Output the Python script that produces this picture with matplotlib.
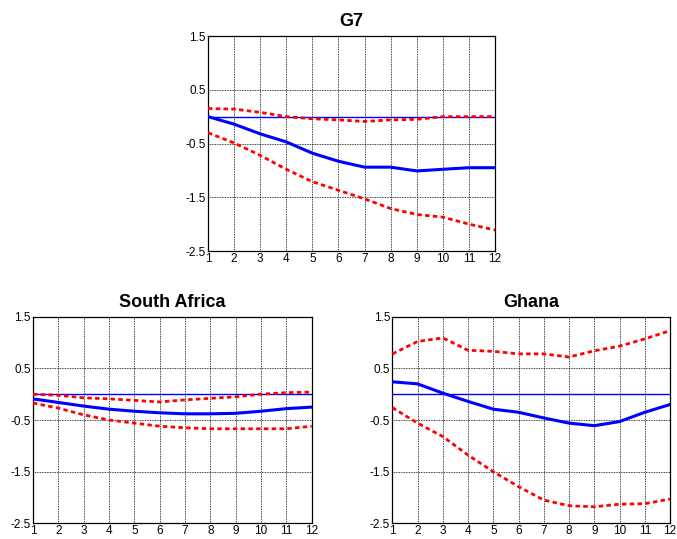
import matplotlib
matplotlib.use("Agg")
import matplotlib.pyplot as plt
import numpy as np

plt.rcParams['font.family'] = ['Liberation Sans', 'DejaVu Sans']

horizons = list(range(1, 13))
yticks = [1.5, 0.5, -0.5, -1.5, -2.5]
ytick_labels = ['1.5', '0.5', '-0.5', '-1.5', '-2.5']

g7_mid = [0.0, -0.14, -0.32, -0.47, -0.68, -0.83, -0.94, -0.94, -1.01, -0.98, -0.95, -0.95]
g7_upper = [0.15, 0.14, 0.08, 0.0, -0.04, -0.06, -0.09, -0.06, -0.05, 0.0, 0.0, 0.0]
g7_lower = [-0.30, -0.49, -0.72, -0.98, -1.21, -1.37, -1.53, -1.71, -1.82, -1.87, -2.0, -2.11]

sa_mid = [-0.09, -0.16, -0.23, -0.29, -0.33, -0.36, -0.38, -0.38, -0.37, -0.33, -0.28, -0.25]
sa_upper = [0.0, -0.02, -0.07, -0.09, -0.12, -0.15, -0.11, -0.08, -0.05, 0.0, 0.03, 0.04]
sa_lower = [-0.17, -0.27, -0.40, -0.50, -0.56, -0.62, -0.65, -0.67, -0.67, -0.67, -0.67, -0.62]

gh_mid = [0.24, 0.20, 0.02, -0.14, -0.29, -0.35, -0.46, -0.56, -0.61, -0.53, -0.35, -0.20]
gh_upper = [0.78, 1.02, 1.09, 0.85, 0.83, 0.78, 0.78, 0.72, 0.84, 0.93, 1.07, 1.23]
gh_lower = [-0.26, -0.56, -0.82, -1.18, -1.50, -1.79, -2.05, -2.16, -2.18, -2.13, -2.12, -2.03]

panels = [
    ("G7", g7_mid, g7_upper, g7_lower, [0.3072, 0.5343, 0.4240, 0.3989]),
    ("South Africa", sa_mid, sa_upper, sa_lower, [0.0487, 0.0291, 0.4117, 0.3833]),
    ("Ghana", gh_mid, gh_upper, gh_lower, [0.5795, 0.0291, 0.4102, 0.3833]),
]

fig = plt.figure(figsize=(6.77, 5.39), dpi=100)

for title, mid, up, lo, pos in panels:
    ax = fig.add_axes(pos)
    ax.axhline(0, color='#0000ff', lw=1.0, zorder=3)
    ax.plot(horizons, up, color='#ff0000', lw=2.0, linestyle=(0, (1.6, 1.2)), zorder=4)
    ax.plot(horizons, lo, color='#ff0000', lw=2.0, linestyle=(0, (1.6, 1.2)), zorder=4)
    ax.plot(horizons, mid, color='#0000ff', lw=2.2, zorder=5)
    ax.set_xlim(1, 12)
    ax.set_ylim(-2.5, 1.5)
    ax.set_xticks(horizons)
    ax.set_xticklabels([str(h) for h in horizons], fontsize=8.5)
    ax.set_yticks(yticks)
    ax.set_yticklabels(ytick_labels, fontsize=8.5)
    ax.tick_params(direction='in', length=0, pad=1.5)
    ax.grid(True, color='black', linestyle=(0, (1, 1)), linewidth=0.6)
    for s in ax.spines.values():
        s.set_linewidth(0.9)
    ax.set_title(title, fontsize=13, fontweight='bold', pad=7)

fig.savefig("out.png", dpi=100)
